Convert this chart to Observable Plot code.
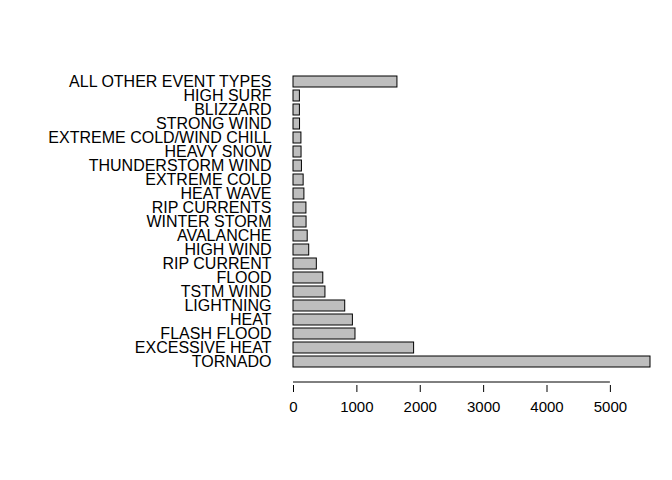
<!DOCTYPE html>
<html><head>
<script src="https://cdn.jsdelivr.net/npm/d3@7"></script>
<script src="https://cdn.jsdelivr.net/npm/@observablehq/plot@0.6"></script>
<style>body{margin:0;background:#fff}</style>
</head><body>
<div id="c"></div>
<script>
const events = ["TORNADO","EXCESSIVE HEAT","FLASH FLOOD","HEAT","LIGHTNING","TSTM WIND","FLOOD","RIP CURRENT","HIGH WIND","AVALANCHE","WINTER STORM","RIP CURRENTS","HEAT WAVE","EXTREME COLD","THUNDERSTORM WIND","HEAVY SNOW","EXTREME COLD/WIND CHILL","STRONG WIND","BLIZZARD","HIGH SURF","ALL OTHER EVENT TYPES"];
const deaths = [5633,1903,978,937,816,504,470,368,248,224,206,204,172,160,133,127,125,103,101,101,1640];
const xticks = [0,1000,2000,3000,4000,5000];
const data = events.map((e,i)=>({event:e, deaths:deaths[i]}));
const chart = Plot.plot({
  width:672, height:480,
  marginLeft:293, marginRight:22, marginTop:71, marginBottom:108,
  style:{fontFamily:"Liberation Sans, Arial, sans-serif", fontSize:"15px", color:"#000"},
  x:{domain:[0,5633], label:null},
  y:{domain:events.slice().reverse(), padding:0.2, label:null},
  marks:[
    Plot.barX(data,{x:"deaths", y:"event", fill:"#bebebe", stroke:"#000", strokeWidth:1}),
    Plot.axisY({tickSize:0, tickPadding:22, fontSize:16, label:null}),
    Plot.ruleY(["TORNADO"],{x1:0, x2:5000, dy:20, stroke:"#000"}),
    Plot.axisX({ticks:xticks, tickFormat:d=>String(d), tickSize:7, dy:13, tickPadding:9, fontSize:15, label:null})
  ]
});
document.getElementById("c").appendChild(chart);
</script>
</body></html>
